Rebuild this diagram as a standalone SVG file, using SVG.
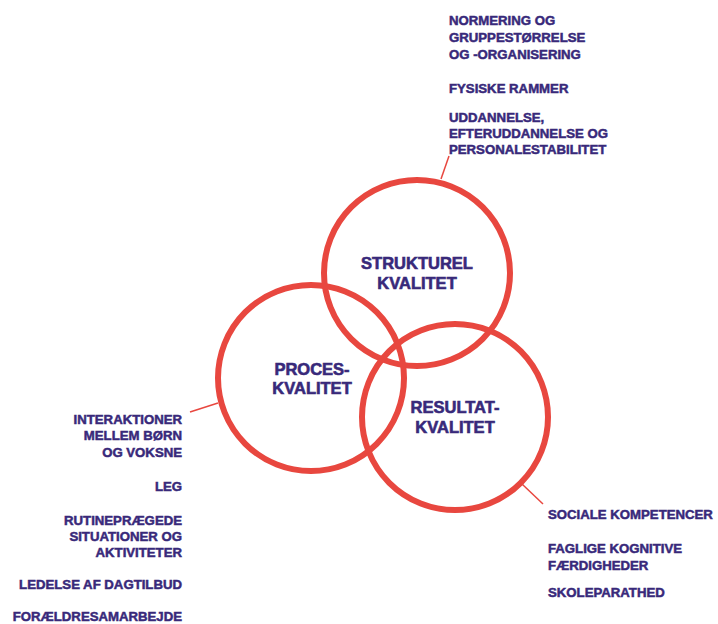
<svg xmlns="http://www.w3.org/2000/svg" width="718" height="624" viewBox="0 0 718 624">
<style>
.c{fill:none;stroke:#e8473f;stroke-width:6}
.l{stroke:#e8473f;stroke-width:1.5;fill:none}
.t{font-family:"Liberation Sans",Arial,sans-serif;font-weight:bold;fill:#38297a;stroke:#38297a;stroke-width:0.5;font-size:13.2px}
.h{font-family:"Liberation Sans",Arial,sans-serif;font-weight:bold;fill:#38297a;stroke:#38297a;stroke-width:0.6;font-size:16.5px;text-anchor:middle}
.r{text-anchor:end}
</style>
<rect width="718" height="624" fill="#ffffff"/>
<g id="connectors">
<line class="l" x1="441" y1="179" x2="449" y2="156"/>
<line class="l" x1="190" y1="412" x2="218" y2="403"/>
<line class="l" x1="522" y1="484" x2="543" y2="504"/>
</g>
<g id="strukturel">
<circle class="c" cx="417" cy="273" r="93"/>
<text class="h" x="417" y="269">STRUKTUREL</text>
<text class="h" x="417" y="289">KVALITET</text>
</g>
<g id="proces">
<circle class="c" cx="311" cy="378" r="93"/>
<text class="h" x="312" y="375">PROCES-</text>
<text class="h" x="312" y="394">KVALITET</text>
</g>
<g id="resultat">
<circle class="c" cx="455" cy="417" r="93"/>
<text class="h" x="455" y="413">RESULTAT-</text>
<text class="h" x="455" y="433">KVALITET</text>
</g>
<g id="strukturel-items">
<text class="t" x="449" y="25">NORMERING OG</text>
<text class="t" x="449" y="42">GRUPPESTØRRELSE</text>
<text class="t" x="449" y="59">OG -ORGANISERING</text>
<text class="t" x="449" y="93">FYSISKE RAMMER</text>
<text class="t" x="449" y="122">UDDANNELSE,</text>
<text class="t" x="449" y="138">EFTERUDDANNELSE OG</text>
<text class="t" x="449" y="154">PERSONALESTABILITET</text>
</g>
<g id="proces-items">
<text class="t r" x="182" y="424">INTERAKTIONER</text>
<text class="t r" x="182" y="440">MELLEM BØRN</text>
<text class="t r" x="182" y="457">OG VOKSNE</text>
<text class="t r" x="182" y="491">LEG</text>
<text class="t r" x="182" y="525">RUTINEPRÆGEDE</text>
<text class="t r" x="182" y="541">SITUATIONER OG</text>
<text class="t r" x="182" y="557">AKTIVITETER</text>
<text class="t r" x="182" y="589">LEDELSE AF DAGTILBUD</text>
<text class="t r" x="182" y="621">FORÆLDRESAMARBEJDE</text>
</g>
<g id="resultat-items">
<text class="t" x="548" y="519">SOCIALE KOMPETENCER</text>
<text class="t" x="548" y="553">FAGLIGE KOGNITIVE</text>
<text class="t" x="548" y="570">FÆRDIGHEDER</text>
<text class="t" x="548" y="597">SKOLEPARATHED</text>
</g>
</svg>
